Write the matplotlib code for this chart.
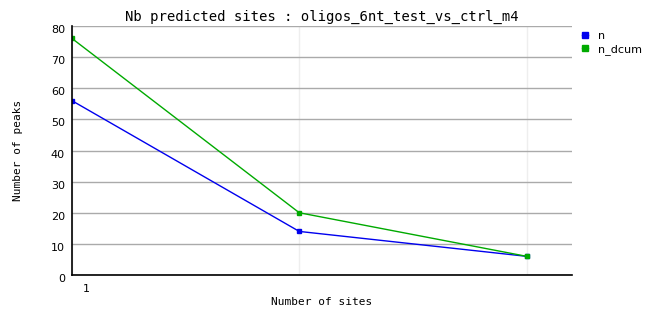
import matplotlib
matplotlib.use("Agg")
import matplotlib.pyplot as plt
import matplotlib.transforms as mtransforms

plt.rcParams["font.family"] = "DejaVu Sans Mono"

sites = [1, 2, 3]
n = [56, 14, 6]
n_dcum = [76, 20, 6]

W, H = 662, 328
fig = plt.figure(figsize=(W / 100, H / 100), dpi=100)
ax = fig.add_axes([72 / W, 53 / H, 500 / W, 249 / H])

ax.plot(sites, n, color="#0000ee", lw=1, marker="s", ms=2.5, label="n")
ax.plot(sites, n_dcum, color="#00aa00", lw=1, marker="s", ms=2.5, label="n_dcum")

ax.set_xlim(1, 3.2)
ax.set_ylim(0, 80)
ax.set_yticks(range(0, 81, 10))
ax.set_xticks(sites)
ax.set_xticklabels(["", "", ""])
ax.tick_params(length=0, labelsize=8)
ax.tick_params(axis="y", pad=5)
# y labels sit a few pixels below their gridline in the original
shift = mtransforms.ScaledTranslation(0, -3 / 100, fig.dpi_scale_trans)
for lab in ax.get_yticklabels():
    lab.set_family("DejaVu Sans")
    lab.set_transform(lab.get_transform() + shift)
# first site label sits a bit right of the axis in the original
fig.text(86 / W, 1 - 289 / H, "1", ha="center", va="center", fontsize=8, family="DejaVu Sans")

ax.grid(axis="y", color="#aaaaaa", lw=1)
ax.grid(axis="x", color="#eeeeee", lw=1)
ax.set_axisbelow(True)
for s in ["top", "right"]:
    ax.spines[s].set_visible(False)
for s in ["left", "bottom"]:
    ax.spines[s].set_linewidth(1.2)

fig.text(322 / W, 1 - 17 / H, "Nb predicted sites : oligos_6nt_test_vs_ctrl_m4",
         ha="center", va="center", fontsize=10)
fig.text(322 / W, 1 - 302 / H, "Number of sites", ha="center", va="center", fontsize=8)
fig.text(18 / W, 1 - 150 / H, "Number of peaks", ha="center", va="center", fontsize=8,
         rotation=90)

ax.legend(loc="upper left", bbox_to_anchor=(1.0, 1.02), frameon=False,
          handlelength=0.5, handletextpad=0.9, labelspacing=0.25, markerscale=1.6,
          prop={"family": "DejaVu Sans", "size": 8})

fig.savefig("out.png", dpi=100)
